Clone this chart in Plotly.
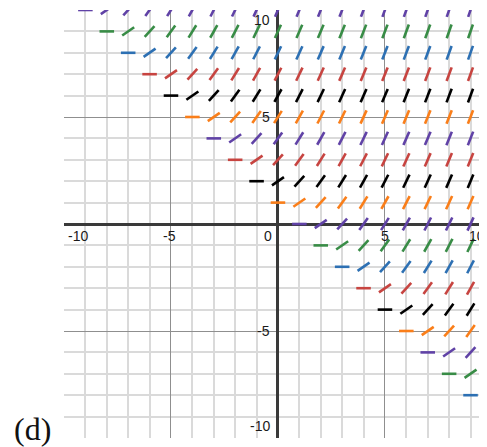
import numpy as np
import plotly.graph_objects as go

# slope field dy/dx = ln(x + y), drawn on the integer grid where x + y > 0
xs = list(range(-10, 11))
ys = list(range(10, -11, -1))
row_colors = {
    10: "#6042a6", 9: "#388c46", 8: "#2d70b3", 7: "#c74440", 6: "#000000",
    5: "#fa7e19", 4: "#6042a6", 3: "#c74440", 2: "#000000", 1: "#fa7e19",
    0: "#6042a6", -1: "#388c46", -2: "#2d70b3", -3: "#c74440", -4: "#000000",
    -5: "#fa7e19", -6: "#6042a6", -7: "#388c46", -8: "#2d70b3", -9: "#c74440",
    -10: "#000000",
}
half_len = 0.34

x_ticks = ["-10", "-5", "0", "5", "10"]
x_tick_pos = [-9.35, -5.05, -0.45, 5.0, 9.3]
y_ticks = ["10", "5", "-5", "-10"]
y_tick_pos = [9.53, 5.0, -5.0, -9.45]

fig = go.Figure()

for y in ys:
    seg_x, seg_y = [], []
    for x in xs:
        if x + y <= 0:
            continue
        m = np.log(x + y)
        dx = half_len / np.sqrt(1 + m * m)
        seg_x += [x - dx, x + dx, None]
        seg_y += [y - m * dx, y + m * dx, None]
    if not seg_x:
        continue
    fig.add_trace(go.Scatter(x=seg_x, y=seg_y, mode="lines",
                             line=dict(color=row_colors[y], width=2.6),
                             hoverinfo="skip", showlegend=False))

minor_vals = [v for v in range(-9, 10) if v % 5 != 0]
axis_style = dict(
    tickmode="array", tickvals=[-5, 5], showticklabels=False, ticks="",
    showgrid=True, gridcolor="#8f8f8f", gridwidth=1,
    minor=dict(tickmode="array", tickvals=minor_vals, showgrid=True,
               gridcolor="#dadada", gridwidth=1.5, ticks=""),
    zeroline=True, zerolinecolor="#3a3a3a", zerolinewidth=2.5,
    showline=False, fixedrange=True,
)
fig.update_xaxes(range=[-10, 9.77], **axis_style)
fig.update_yaxes(range=[-10, 10], **axis_style)

tick_font = dict(family="Liberation Sans, Arial", size=14, color="#1a1a1a")
for t, p in zip(x_ticks, x_tick_pos):
    fig.add_annotation(x=p, y=-0.56, text=t, showarrow=False, font=tick_font,
                       xanchor="center", yanchor="middle")
for t, p in zip(y_ticks, y_tick_pos):
    fig.add_annotation(x=-0.26, y=p, text=t, showarrow=False, font=tick_font,
                       xanchor="right", yanchor="middle")

fig.add_annotation(x=-0.0745, y=0.022, xref="paper", yref="paper", text="(d)",
                   showarrow=False, xanchor="center", yanchor="middle",
                   font=dict(family="Liberation Serif, DejaVu Serif", size=32, color="#111"))

# the page body adds an 8px offset, so the figure is sized to sit inside the window
fig.update_layout(
    width=479, height=439,
    margin=dict(l=56, r=0, t=2, b=9),
    plot_bgcolor="white", paper_bgcolor="white",
)

fig.write_html("out.html")
